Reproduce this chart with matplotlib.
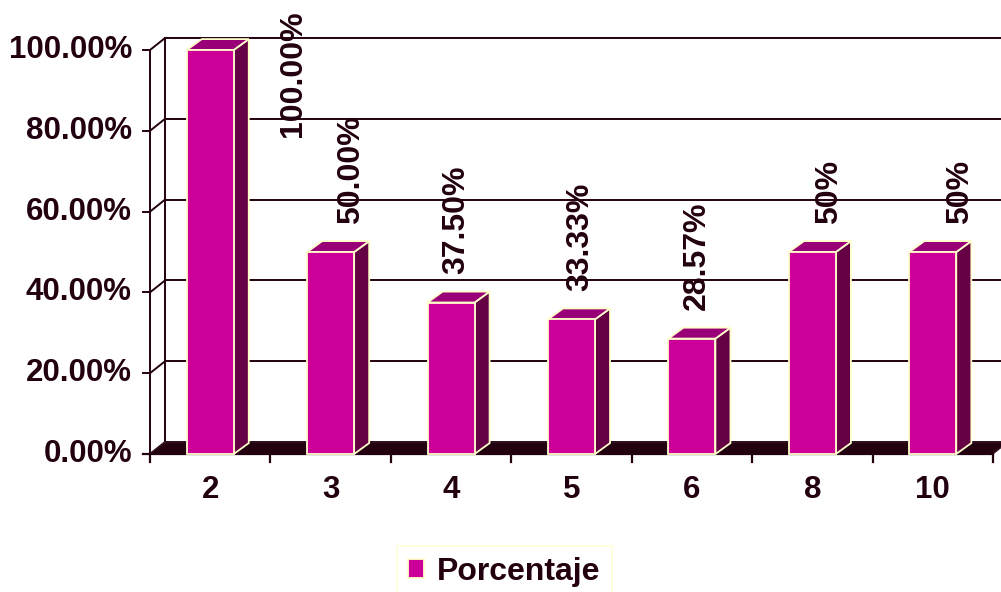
import numpy as np
import matplotlib.pyplot as plt
from matplotlib.patches import Polygon, Rectangle, Patch

# data: share of the total for each group size
categories = ["2", "3", "4", "5", "6", "8", "10"]
values = [100.0, 50.0, 37.5, 33.33, 28.57, 50.0, 50.0]
value_labels = ["100.00%", "50.00%", "37.50%", "33.33%", "28.57%", "50%", "50%"]
yticks = [0, 20, 40, 60, 80, 100]

# label nudges to the right (category units), as Excel places them
label_shift = [0.69, 0.17, 0.04, 0.07, 0.04, 0.14, 0.23]

plt.rcParams['font.family'] = ['Liberation Sans', 'DejaVu Sans']
plt.rcParams['font.weight'] = 'bold'

ink = '#22000f'
front = '#cc0099'
side = '#660044'
top = '#990077'
edge = '#ffffcc'

DX, DY = 0.125, 2.97      # depth of the walls/floor
BDX, BDY = 0.125, 2.7     # depth of each column
w = 0.39
fs = 22.5

fig = plt.figure(figsize=(10.01, 5.92), dpi=100)
ax = fig.add_axes([150/1001, 1 - 454/592, 843/1001, 404/592])
ax.set_xlim(0, 7)
ax.set_ylim(0, 100)
ax.axis('off')
n = len(categories)

# back wall gridlines, side wall diagonals and the left axis
for v in yticks:
    ax.plot([DX, n + DX], [v + DY, v + DY], color=ink, lw=1.4, clip_on=False, zorder=1)
    ax.plot([0, DX], [v, v + DY], color=ink, lw=1.4, clip_on=False, zorder=1)
    ax.plot([-0.058, 0], [v, v], color=ink, lw=1.4, clip_on=False, zorder=1)
    ax.text(-0.15, v, f"{v:.2f}%", ha='right', va='center', fontsize=fs,
            color=ink, clip_on=False)
ax.plot([DX, DX], [DY, 100 + DY], color=ink, lw=1.4, clip_on=False, zorder=1)
ax.plot([0, 0], [0, 100], color=ink, lw=1.4, clip_on=False, zorder=1)

# floor
floor = Polygon([[0, 0], [n, 0], [n + DX, DY], [DX, DY]], closed=True,
                facecolor='#230010', edgecolor='#3a1a28', lw=0.8,
                clip_on=False, zorder=2)
ax.add_patch(floor)
ax.plot([-0.058, n], [0, 0], color=ink, lw=1.6, clip_on=False, zorder=2)
for i in range(n + 1):
    ax.plot([i, i], [0, -2.0], color=ink, lw=1.6, clip_on=False, zorder=2)

# columns
for i, v in enumerate(values):
    x0 = i + 0.5 - w / 2
    x1 = x0 + w
    ax.add_patch(Polygon([[x1, 0], [x1 + BDX, BDY], [x1 + BDX, v + BDY], [x1, v]],
                         closed=True, facecolor=side, edgecolor=edge, lw=1.3,
                         clip_on=False, zorder=3))
    ax.add_patch(Polygon([[x0, v], [x1, v], [x1 + BDX, v + BDY], [x0 + BDX, v + BDY]],
                         closed=True, facecolor=top, edgecolor=edge, lw=1.3,
                         clip_on=False, zorder=3))
    ax.add_patch(Rectangle((x0, 0), w, v, facecolor=front, edgecolor=edge,
                           lw=1.3, clip_on=False, zorder=4))

    # value label above the column, pulled down when it would leave the figure
    ly = v + BDY + 4.3
    if ly + 32 > 110.5:
        ly = 110.5 - 32
    ax.text(i + 0.5 + label_shift[i], ly, value_labels[i], rotation=90,
            ha='center', va='bottom', fontsize=23, color=ink, clip_on=False,
            zorder=5)

    ax.text(i + 0.5, -9, categories[i], ha='center', va='center',
            fontsize=fs, color=ink, clip_on=False)

handle = Patch(facecolor=front, edgecolor=edge, lw=1.3)
leg = fig.legend([handle], ["Porcentaje"], loc='lower left',
                 bbox_to_anchor=(397/1001, -6/592), fontsize=23,
                 frameon=True, fancybox=False, edgecolor=edge,
                 handlelength=0.5, handleheight=0.5, handletextpad=0.4,
                 borderpad=0.35, borderaxespad=0)
leg.get_frame().set_linewidth(1.2)
for t in leg.get_texts():
    t.set_color(ink)

fig.savefig('out.png', dpi=100)
